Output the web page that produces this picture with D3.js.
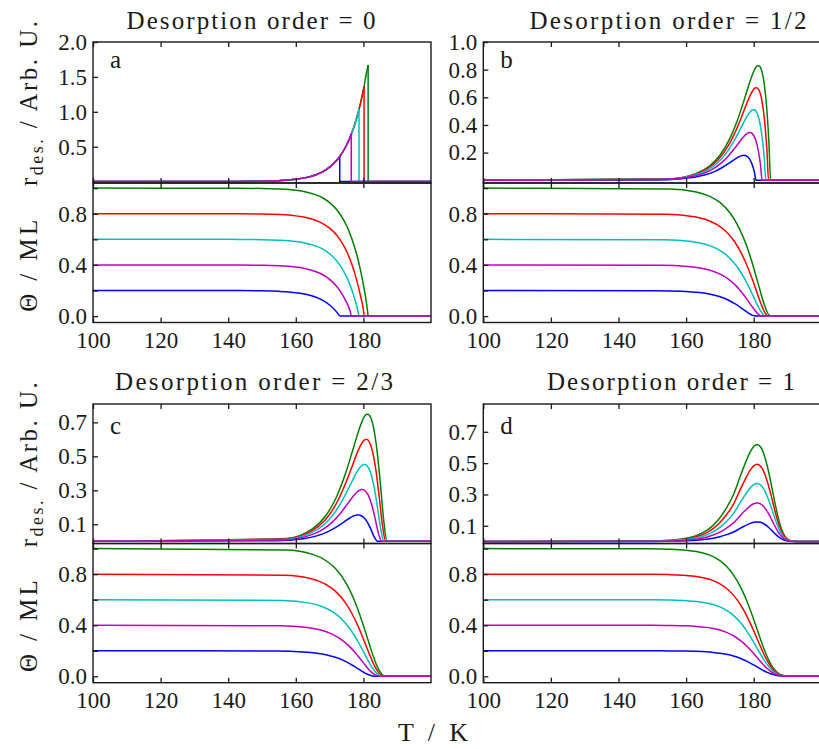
<!DOCTYPE html>
<html>
<head>
<meta charset="utf-8">
<script src="https://cdn.jsdelivr.net/npm/d3@7"></script>
<style>
  body { margin: 0; background: #fff; }
  text { font-family: "Liberation Serif", "Times New Roman", serif; fill: #1a1a1a; }
</style>
</head>
<body>
<svg id="fig" width="819" height="749"></svg>
<script>
// ---- data (series order = drawing order: blue, green, red, cyan, magenta) ----
const seriesNames = ['0.2 ML', '1.0 ML', '0.8 ML', '0.6 ML', '0.4 ML'];
const seriesColors = ['#0000ff', '#008000', '#ff0000', '#00bfbf', '#bf00bf'];

const xTicks = [100, 120, 140, 160, 180];
const covTicks = [0, 0.2, 0.4, 0.6, 0.8, 1.0];
const covTickLabels = ['0.0', '', '0.4', '', '0.8', ''];
const rateTicksA = [0.5, 1.0, 1.5, 2.0];
const rateTicksB = [0.2, 0.4, 0.6, 0.8, 1.0];
const rateTicksC = [0.1, 0.3, 0.5, 0.7];
const rateTicksD = [0.1, 0.3, 0.5, 0.7];

// order 0: one rising rate curve, each coverage cut off when it is used up
const tempA = [100, 140, 150, 155, 160, 163, 166, 168, 170, 172, 173, 174, 175, 176, 177, 178, 179, 180, 181];
const rateA = [0, 0.0008, 0.005, 0.013, 0.0325, 0.057, 0.099, 0.143, 0.207, 0.299, 0.36, 0.433, 0.521, 0.627, 0.755, 0.908, 1.092, 1.314, 1.581];
const cutTempA = [173, 181.4, 180.2, 178.7, 176.4];
const cutRateA = [0.36, 1.67, 1.36, 1.04, 0.69];
const covA = [
  [0.2, 0.1996, 0.1975, 0.1935, 0.1831, 0.170, 0.147, 0.123, 0.087, 0.035, 0],
  [1, 0.9996, 0.9975, 0.9935, 0.9831, 0.970, 0.947, 0.923, 0.887, 0.835, 0.800, 0.758, 0.708, 0.646, 0.572, 0.483, 0.375, 0.244, 0.086, 0],
  [0.8, 0.7996, 0.7975, 0.7935, 0.7831, 0.770, 0.747, 0.723, 0.687, 0.635, 0.600, 0.558, 0.508, 0.446, 0.372, 0.283, 0.175, 0.044, 0],
  [0.6, 0.5996, 0.5975, 0.5935, 0.5831, 0.570, 0.547, 0.523, 0.487, 0.435, 0.400, 0.358, 0.308, 0.246, 0.172, 0.083, 0],
  [0.4, 0.3996, 0.3975, 0.3935, 0.3831, 0.370, 0.347, 0.323, 0.287, 0.235, 0.200, 0.158, 0.108, 0.046, 0]
];

// order 1/2
const tempB = [
  [100, 150.7, 158.7, 162.7, 165.7, 168.7, 170.7, 172.7, 173.7, 174.7, 175.7, 176.7, 177.2, 177.7, 178.7, 179.7, 180.2, 180.7, 200],
  [100, 155, 163, 167, 170, 173, 175, 177, 178, 179, 180, 181, 181.5, 182, 183, 184, 184.5, 185, 200],
  [100, 154.4, 162.4, 166.4, 169.4, 172.4, 174.4, 176.4, 177.4, 178.4, 179.4, 180.4, 180.9, 181.4, 182.4, 183.4, 183.9, 184.4, 200],
  [100, 153.6, 161.6, 165.6, 168.6, 171.6, 173.6, 175.6, 176.6, 177.6, 178.6, 179.6, 180.1, 180.6, 181.6, 182.6, 183.1, 183.6, 200],
  [100, 152.5, 160.5, 164.5, 167.5, 170.5, 172.5, 174.5, 175.5, 176.5, 177.5, 178.5, 179, 179.5, 180.5, 181.5, 182, 182.5, 200]
];
const rateB = [
  [0, 0.002, 0.011, 0.023, 0.039, 0.066, 0.092, 0.123, 0.140, 0.157, 0.171, 0.179, 0.180, 0.177, 0.156, 0.103, 0.059, 0, 0],
  [0, 0.011, 0.050, 0.105, 0.181, 0.305, 0.422, 0.567, 0.646, 0.722, 0.787, 0.827, 0.829, 0.816, 0.718, 0.475, 0.274, 0, 0],
  [0, 0.009, 0.040, 0.085, 0.146, 0.246, 0.341, 0.458, 0.521, 0.583, 0.635, 0.667, 0.669, 0.659, 0.580, 0.383, 0.221, 0, 0],
  [0, 0.007, 0.031, 0.065, 0.111, 0.187, 0.260, 0.348, 0.397, 0.444, 0.483, 0.508, 0.509, 0.501, 0.441, 0.292, 0.168, 0, 0],
  [0, 0.005, 0.021, 0.044, 0.075, 0.127, 0.176, 0.236, 0.268, 0.300, 0.327, 0.344, 0.345, 0.339, 0.298, 0.197, 0.114, 0, 0]
];
const covB = [
  [0.2, 0.199, 0.194, 0.187, 0.178, 0.161, 0.145, 0.122, 0.108, 0.093, 0.075, 0.057, 0.047, 0.038, 0.020, 0.006, 0.002, 0, 0],
  [1, 0.993, 0.970, 0.936, 0.888, 0.806, 0.723, 0.610, 0.541, 0.463, 0.376, 0.283, 0.236, 0.189, 0.100, 0.030, 0.008, 0, 0],
  [0.8, 0.795, 0.776, 0.749, 0.710, 0.645, 0.579, 0.488, 0.433, 0.370, 0.301, 0.227, 0.189, 0.151, 0.080, 0.024, 0.007, 0, 0],
  [0.6, 0.596, 0.582, 0.561, 0.533, 0.484, 0.434, 0.366, 0.325, 0.278, 0.226, 0.170, 0.142, 0.113, 0.060, 0.018, 0.005, 0, 0],
  [0.4, 0.397, 0.388, 0.374, 0.355, 0.322, 0.289, 0.244, 0.216, 0.185, 0.150, 0.113, 0.094, 0.076, 0.040, 0.012, 0.003, 0, 0]
];

// order 2/3
const tempC = [
  [100, 154.2, 162.2, 166.2, 169.2, 172.2, 174.2, 176.2, 177.2, 178.2, 178.7, 179.2, 180.2, 181.2, 182.2, 183.2, 184.2, 200],
  [100, 157, 165, 169, 172, 175, 177, 179, 180, 181, 181.5, 182, 183, 184, 185, 186, 187, 200],
  [100, 156.6, 164.6, 168.6, 171.6, 174.6, 176.6, 178.6, 179.6, 180.6, 181.1, 181.6, 182.6, 183.6, 184.6, 185.6, 186.6, 200],
  [100, 156.1, 164.1, 168.1, 171.1, 174.1, 176.1, 178.1, 179.1, 180.1, 180.6, 181.1, 182.1, 183.1, 184.1, 185.1, 186.1, 200],
  [100, 155.4, 163.4, 167.4, 170.4, 173.4, 175.4, 177.4, 178.4, 179.4, 179.9, 180.4, 181.4, 182.4, 183.4, 184.4, 185.4, 200]
];
const rateC = [
  [0, 0.0035, 0.0155, 0.032, 0.0537, 0.0863, 0.113, 0.140, 0.150, 0.155, 0.155, 0.152, 0.139, 0.112, 0.0715, 0.0259, 0, 0],
  [0, 0.0168, 0.0748, 0.1545, 0.259, 0.416, 0.546, 0.674, 0.723, 0.747, 0.746, 0.735, 0.669, 0.539, 0.345, 0.125, 0, 0],
  [0, 0.0135, 0.060, 0.124, 0.208, 0.334, 0.438, 0.541, 0.580, 0.599, 0.599, 0.589, 0.536, 0.432, 0.277, 0.100, 0, 0],
  [0, 0.0102, 0.0453, 0.0935, 0.157, 0.252, 0.331, 0.408, 0.438, 0.4525, 0.452, 0.445, 0.405, 0.327, 0.209, 0.0757, 0, 0],
  [0, 0.0069, 0.0305, 0.063, 0.1055, 0.170, 0.223, 0.275, 0.295, 0.305, 0.304, 0.299, 0.273, 0.220, 0.141, 0.051, 0, 0]
];
const covC = [
  [0.2, 0.198, 0.191, 0.181, 0.167, 0.145, 0.123, 0.095, 0.080, 0.063, 0.0545, 0.046, 0.030, 0.016, 0.0063, 0.001, 0, 0],
  [1, 0.990, 0.955, 0.905, 0.836, 0.7235, 0.615, 0.477, 0.398, 0.315, 0.2725, 0.231, 0.151, 0.082, 0.032, 0.005, 0, 0],
  [0.8, 0.792, 0.764, 0.724, 0.669, 0.579, 0.492, 0.382, 0.318, 0.252, 0.218, 0.185, 0.121, 0.066, 0.025, 0.004, 0, 0],
  [0.6, 0.594, 0.573, 0.543, 0.502, 0.434, 0.369, 0.286, 0.239, 0.189, 0.1635, 0.1385, 0.0905, 0.049, 0.019, 0.003, 0, 0],
  [0.4, 0.396, 0.382, 0.362, 0.334, 0.289, 0.246, 0.191, 0.159, 0.126, 0.109, 0.092, 0.060, 0.033, 0.0126, 0.002, 0, 0]
];

// order 1: same temperature grid for every series
const tempD = [100, 150, 155, 160, 163, 166, 168, 170, 172, 174, 176, 177, 178, 179, 180, 181, 182, 183, 184, 185, 186, 187, 188, 189, 190, 191, 193, 200];
const rateD = [
  [0, 0.0005, 0.0014, 0.0041, 0.0076, 0.0139, 0.0208, 0.0306, 0.0436, 0.0602, 0.0838, 0.0953, 0.1062, 0.1157, 0.1225, 0.125, 0.1221, 0.1129, 0.0976, 0.0776, 0.0557, 0.0353, 0.0191, 0.0085, 0.003, 0.0008, 0, 0],
  [0, 0.0025, 0.0071, 0.0202, 0.0375, 0.069, 0.1028, 0.1513, 0.2159, 0.2979, 0.4149, 0.4717, 0.5261, 0.5731, 0.6064, 0.619, 0.6045, 0.559, 0.4833, 0.3845, 0.276, 0.1746, 0.0945, 0.0423, 0.0149, 0.0039, 0.0002, 0],
  [0, 0.002, 0.0057, 0.0161, 0.0299, 0.055, 0.0818, 0.1205, 0.172, 0.2372, 0.3305, 0.3757, 0.419, 0.4565, 0.4829, 0.493, 0.4815, 0.4452, 0.3849, 0.3062, 0.2198, 0.1391, 0.0752, 0.0337, 0.0118, 0.0031, 0.0001, 0],
  [0, 0.0015, 0.0043, 0.0121, 0.0224, 0.0413, 0.0614, 0.0905, 0.1291, 0.178, 0.248, 0.282, 0.3145, 0.3426, 0.3625, 0.37, 0.3613, 0.3341, 0.2889, 0.2298, 0.165, 0.1044, 0.0565, 0.0253, 0.0089, 0.0023, 0.0001, 0],
  [0, 0.001, 0.0028, 0.008, 0.0149, 0.0274, 0.0408, 0.0601, 0.0858, 0.1184, 0.1649, 0.1875, 0.2091, 0.2278, 0.241, 0.246, 0.2402, 0.2221, 0.1921, 0.1528, 0.1097, 0.0694, 0.0375, 0.0168, 0.0059, 0.0015, 0.0001, 0]
];
const covD = [
  [0.2, 0.1997, 0.1992, 0.1976, 0.1955, 0.1916, 0.1874, 0.1811, 0.172, 0.1589, 0.141, 0.1299, 0.1174, 0.1037, 0.0889, 0.0736, 0.0582, 0.0437, 0.0306, 0.0197, 0.0115, 0.0059, 0.0026, 0.0009, 0.0003, 0.0001, 0, 0],
  [1, 0.9985, 0.9958, 0.9879, 0.9774, 0.9581, 0.9369, 0.9055, 0.8598, 0.7946, 0.7048, 0.6494, 0.5871, 0.5184, 0.4446, 0.3679, 0.2912, 0.2183, 0.153, 0.0986, 0.0574, 0.0294, 0.0129, 0.0047, 0.0013, 0.0003, 0, 0],
  [0.8, 0.7988, 0.7966, 0.7903, 0.7819, 0.7665, 0.7495, 0.7244, 0.6878, 0.6357, 0.5638, 0.5195, 0.4697, 0.4147, 0.3557, 0.2943, 0.233, 0.1746, 0.1224, 0.0789, 0.0459, 0.0235, 0.0103, 0.0038, 0.001, 0.0002, 0, 0],
  [0.6, 0.5991, 0.5975, 0.5927, 0.5864, 0.5749, 0.5621, 0.5433, 0.5159, 0.4768, 0.4229, 0.3896, 0.3523, 0.311, 0.2668, 0.2207, 0.1747, 0.131, 0.0918, 0.0592, 0.0344, 0.0176, 0.0077, 0.0028, 0.0008, 0.0002, 0, 0],
  [0.4, 0.3994, 0.3983, 0.3952, 0.391, 0.3832, 0.3748, 0.3622, 0.3439, 0.3178, 0.2819, 0.2598, 0.2348, 0.2074, 0.1778, 0.1472, 0.1165, 0.0873, 0.0612, 0.0394, 0.023, 0.0118, 0.0052, 0.0019, 0.0005, 0.0001, 0, 0]
];

// ---- build point lists from the arrays ----
const zip = (ts, vs) => ts.map((t, i) => [t, vs[i]]);

const seriesA = seriesNames.map((name, i) => {
  const tc = cutTempA[i];
  const rising = tempA.filter(t => t < tc).map((t, j) => [t, rateA[j]]);
  rising.push([tc, cutRateA[i]]);
  const cov = tempA.filter(t => t < tc).map((t, j) => [t, covA[i][j]]);
  cov.push([tc, covA[i][covA[i].length - 1]]);
  return {
    name,
    rate: rising,
    drop: [[tc, cutRateA[i]], [tc, 0], [200, 0]],
    cov: cov,
    covTail: [[tc, 0], [200, 0]]
  };
});
const seriesB = seriesNames.map((name, i) => ({ name, rate: zip(tempB[i], rateB[i]), cov: zip(tempB[i], covB[i]) }));
const seriesC = seriesNames.map((name, i) => ({ name, rate: zip(tempC[i], rateC[i]), cov: zip(tempC[i], covC[i]) }));
const seriesD = seriesNames.map((name, i) => ({ name, rate: zip(tempD, rateD[i]), cov: zip(tempD, covD[i]) }));

// ---- layout ----
const svg = d3.select('#fig');
const axisW = 338;
const covDomain = [-0.05, 1.04];
const ink = '#1a1a1a';

const panels = [
  { key: 'a', left: 93, top: 42, split: 183, bottom: 322.5, rateDomain: [-0.02, 2.0], rateTicks: rateTicksA,
    title: 'Desorption order = 0', titleX: 251, titleY: 29, titleW: 249, letterY: 68, series: seriesA, yLabels: true },
  { key: 'b', left: 483.3, top: 42, split: 183, bottom: 322.5, rateDomain: [-0.02, 1.0], rateTicks: rateTicksB,
    title: 'Desorption order = 1/2', titleX: 668, titleY: 29, titleW: 277, letterY: 68, series: seriesB },
  { key: 'c', left: 93, top: 404, split: 543.5, bottom: 682.7, rateDomain: [-0.013, 0.808], rateTicks: rateTicksC,
    title: 'Desorption order = 2/3', titleX: 254, titleY: 390, titleW: 278, letterY: 434, series: seriesC, yLabels: true },
  { key: 'd', left: 483.3, top: 404, split: 543.5, bottom: 682.7, rateDomain: [-0.013, 0.8775], rateTicks: rateTicksD,
    title: 'Desorption order = 1', titleX: 671, titleY: 390, titleW: 248, letterY: 434, series: seriesD }
];

function styleAxis(g) {
  g.select('.domain').remove();
  g.selectAll('line').attr('stroke', ink).attr('stroke-width', 1.3);
  g.selectAll('text').attr('font-family', null).style('font-size', '23px').attr('fill', ink);
}

function drawPanel(p) {
  const x = d3.scaleLinear().domain([100, 200]).range([p.left, p.left + axisW]);
  const yRate = d3.scaleLinear().domain(p.rateDomain).range([p.split, p.top]);
  const yCov = d3.scaleLinear().domain(covDomain).range([p.bottom, p.split]);
  const g = svg.append('g').attr('class', 'panel-' + p.key);

  const defs = svg.append('defs');
  defs.append('clipPath').attr('id', 'clipTop' + p.key).append('rect')
    .attr('x', p.left).attr('y', p.top).attr('width', axisW).attr('height', p.split - p.top);
  defs.append('clipPath').attr('id', 'clipBot' + p.key).append('rect')
    .attr('x', p.left).attr('y', p.split).attr('width', axisW).attr('height', p.bottom - p.split);

  const rateLine = d3.line().x(d => x(d[0])).y(d => yRate(d[1])).curve(d3.curveMonotoneX);
  const rateStep = d3.line().x(d => x(d[0])).y(d => yRate(d[1]));
  const covLine = d3.line().x(d => x(d[0])).y(d => yCov(d[1])).curve(d3.curveMonotoneX);
  const covStep = d3.line().x(d => x(d[0])).y(d => yCov(d[1]));

  const top = g.append('g').attr('clip-path', `url(#clipTop${p.key})`);
  const bot = g.append('g').attr('clip-path', `url(#clipBot${p.key})`);

  p.series.forEach((s, i) => {
    const c = seriesColors[i];
    top.append('path').attr('d', rateLine(s.rate)).attr('fill', 'none').attr('stroke', c).attr('stroke-width', 1.5);
    if (s.drop) top.append('path').attr('d', rateStep(s.drop)).attr('fill', 'none').attr('stroke', c).attr('stroke-width', 1.5);
    bot.append('path').attr('d', covLine(s.cov)).attr('fill', 'none').attr('stroke', c).attr('stroke-width', 1.5);
    if (s.covTail) bot.append('path').attr('d', covStep(s.covTail)).attr('fill', 'none').attr('stroke', c).attr('stroke-width', 1.5);
  });

  // inward ticks on every horizontal edge
  [[p.top, d3.axisTop], [p.split, d3.axisBottom], [p.split, d3.axisTop]].forEach(([yy, ax]) => {
    g.append('g').attr('transform', `translate(0,${yy})`)
      .call(ax(x).tickValues(xTicks).tickSize(-5).tickSizeOuter(0).tickFormat(''))
      .call(styleAxis);
  });
  g.append('g').attr('transform', `translate(0,${p.bottom})`)
    .call(d3.axisBottom(x).tickValues(xTicks).tickSize(-5).tickSizeOuter(0).tickPadding(9).tickFormat(d3.format('d')))
    .call(styleAxis);

  g.append('g').attr('transform', `translate(${p.left},0)`)
    .call(d3.axisLeft(yRate).tickValues(p.rateTicks).tickSize(-5).tickSizeOuter(0).tickPadding(6).tickFormat(d3.format('.1f')))
    .call(styleAxis);
  g.append('g').attr('transform', `translate(${p.left},0)`)
    .call(d3.axisLeft(yCov).tickValues(covTicks).tickSize(-5).tickSizeOuter(0).tickPadding(6)
      .tickFormat((d, i) => covTickLabels[i]))
    .call(styleAxis);

  // frames
  [[p.top, p.split], [p.split, p.bottom]].forEach(([y0, y1]) => {
    g.append('rect').attr('x', p.left).attr('y', y0).attr('width', axisW).attr('height', y1 - y0)
      .attr('fill', 'none').attr('stroke', ink).attr('stroke-width', 1.4);
  });

  g.append('text').attr('x', p.titleX).attr('y', p.titleY).attr('text-anchor', 'middle')
    .attr('textLength', p.titleW).style('font-size', '25px').text(p.title);
  g.append('text').attr('x', p.left + 17).attr('y', p.letterY).style('font-size', '25px').text(p.key);

  if (p.yLabels) {
    const rl = g.append('text')
      .attr('transform', `translate(37,${(p.top + p.split) / 2 - 9}) rotate(-90)`)
      .attr('text-anchor', 'middle').attr('textLength', 165).style('font-size', '25px');
    rl.append('tspan').text('r');
    rl.append('tspan').attr('dy', 6).style('font-size', '18px').text('des.');
    rl.append('tspan').attr('dy', -6).text(' / Arb. U.');

    g.append('text')
      .attr('transform', `translate(37,${(p.split + p.bottom) / 2 + 13}) rotate(-90)`)
      .attr('text-anchor', 'middle').attr('textLength', 92).style('font-size', '25px')
      .text('\u0398 / ML');
  }
}

panels.forEach(drawPanel);

svg.append('text').attr('x', 433).attr('y', 741).attr('text-anchor', 'middle')
  .attr('textLength', 70).style('font-size', '26px').text('T / K');
</script>
</body>
</html>
